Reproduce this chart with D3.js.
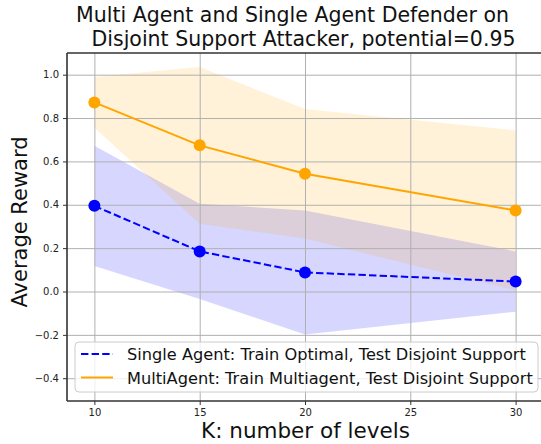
<!DOCTYPE html>
<html>
  <head>
    <meta charset='utf-8' />
    <title>Multi Agent vs Single Agent</title>
    <script src="https://d3js.org/d3.v7.min.js"></script>
    <style>
body {
  margin: 0;
  font-family: "DejaVu Sans", sans-serif;
}
.grid line {
  stroke: #b0b0b0;
  stroke-width: 1;
}
.grid path { display: none; }
.axis path { display: none; }
.axis line { stroke: #333; }
.axis text { font-size: 10px; fill: #222; font-family: "DejaVu Sans", sans-serif; }
    </style>
  </head>
  <body>
    <div id="graphic"></div>
    <script>
      // K values and the two series (mean, upper and lower band)
      const levels = [10, 15, 20, 30];
      const singleMean  = [0.395, 0.185, 0.088, 0.046];
      const singleUpper = [0.672, 0.405, 0.374, 0.185];
      const singleLower = [0.118, -0.035, -0.198, -0.093];
      const multiMean  = [0.872, 0.674, 0.543, 0.374];
      const multiUpper = [0.989, 1.035, 0.842, 0.743];
      const multiLower = [0.755, 0.313, 0.244, 0.005];

      const xTicks = [10, 15, 20, 25, 30];
      const yTicks = [-0.4, -0.2, 0.0, 0.2, 0.4, 0.6, 0.8, 1.0];
      const legendLabels = [
        "Single Agent: Train Optimal, Test Disjoint Support",
        "MultiAgent: Train Multiagent, Test Disjoint Support"
      ];
      const titleLines = [
        "Multi Agent and Single Agent Defender on",
        " Disjoint Support Attacker, potential=0.95"
      ];

      const W = 541, H = 444;
      const mLeft = 67, mTop = 53, mBottom = 401;

      const svg = d3.select("#graphic").append("svg")
        .attr("width", W)
        .attr("height", H);

      const x = d3.scaleLinear().domain([8.7, 31.3]).range([mLeft, 543]);
      const y = d3.scaleLinear().domain([-0.505, 1.10]).range([mBottom, mTop]);

      // bands
      const area = (lo, hi) => d3.area()
        .x((d, i) => x(levels[i]))
        .y0((d, i) => y(lo[i]))
        .y1((d, i) => y(hi[i]));

      svg.append("path")
        .datum(levels)
        .attr("d", area(singleLower, singleUpper))
        .attr("fill", "rgba(0,0,255,0.16)");

      svg.append("path")
        .datum(levels)
        .attr("d", area(multiLower, multiUpper))
        .attr("fill", "rgba(255,165,0,0.15)");

      // grid
      svg.append("g")
        .attr("class", "grid")
        .attr("transform", "translate(0," + mBottom + ")")
        .call(d3.axisBottom(x).tickValues(xTicks).tickSize(-(mBottom - mTop)).tickFormat(""));

      svg.append("g")
        .attr("class", "grid")
        .attr("transform", "translate(" + mLeft + ",0)")
        .call(d3.axisLeft(y).tickValues(yTicks).tickSize(-(W - mLeft)).tickFormat(""));

      // lines
      const line = (vals) => d3.line()
        .x((d, i) => x(levels[i]))
        .y((d, i) => y(vals[i]));

      svg.append("path")
        .datum(levels)
        .attr("d", line(singleMean))
        .attr("fill", "none")
        .attr("stroke", "blue")
        .attr("stroke-width", 2)
        .attr("stroke-dasharray", "7.4,3.2");

      svg.append("path")
        .datum(levels)
        .attr("d", line(multiMean))
        .attr("fill", "none")
        .attr("stroke", "orange")
        .attr("stroke-width", 2);

      svg.append("g").selectAll("circle")
        .data(levels)
        .join("circle")
        .attr("cx", d => x(d))
        .attr("cy", (d, i) => y(singleMean[i]))
        .attr("r", 6)
        .attr("fill", "blue");

      svg.append("g").selectAll("circle")
        .data(levels)
        .join("circle")
        .attr("cx", d => x(d))
        .attr("cy", (d, i) => y(multiMean[i]))
        .attr("r", 6)
        .attr("fill", "orange");

      // axes
      svg.append("g")
        .attr("class", "axis")
        .attr("transform", "translate(0," + mBottom + ")")
        .call(d3.axisBottom(x).tickValues(xTicks).tickSize(4).tickPadding(4).tickFormat(d3.format("d")));

      svg.append("g")
        .attr("class", "axis")
        .attr("transform", "translate(" + mLeft + ",0)")
        .call(d3.axisLeft(y).tickValues(yTicks).tickSize(4).tickPadding(4)
          .tickFormat(d => d3.format(".1f")(d).replace("-", "\u2212")));

      // spines
      svg.append("line")
        .attr("x1", mLeft).attr("x2", mLeft).attr("y1", mTop).attr("y2", mBottom)
        .attr("stroke", "#333").attr("stroke-width", 1.6);
      svg.append("line")
        .attr("x1", mLeft).attr("x2", W).attr("y1", mBottom).attr("y2", mBottom)
        .attr("stroke", "#333").attr("stroke-width", 1.6);
      svg.append("line")
        .attr("x1", mLeft).attr("x2", W).attr("y1", mTop).attr("y2", mTop)
        .attr("stroke", "#333").attr("stroke-width", 1.6);

      // legend
      const lg = svg.append("g");
      lg.append("rect")
        .attr("x", 75).attr("y", 342).attr("width", 463).attr("height", 50)
        .attr("rx", 4)
        .attr("fill", "rgba(255,255,255,0.8)")
        .attr("stroke", "#cccccc");
      const legendStyles = [
        {color: "blue", dash: "7.4,3.2"},
        {color: "orange", dash: null}
      ];
      legendLabels.forEach((t, i) => {
        const cy = 354 + i * 23.5;
        lg.append("line")
          .attr("x1", 81).attr("x2", 113).attr("y1", cy).attr("y2", cy)
          .attr("stroke", legendStyles[i].color)
          .attr("stroke-width", 2)
          .attr("stroke-dasharray", legendStyles[i].dash);
        lg.append("text")
          .attr("x", 127).attr("y", cy + 6)
          .attr("font-size", 16.2)
          .attr("fill", "#111")
          .text(t);
      });

      // titles and labels
      svg.append("text")
        .attr("x", 76).attr("y", 21.5)
        .attr("font-size", 20.5)
        .attr("fill", "#111")
        .style("white-space", "pre")
        .text(titleLines[0]);
      svg.append("text")
        .attr("x", 85).attr("y", 45.5)
        .attr("font-size", 20.5)
        .attr("fill", "#111")
        .style("white-space", "pre")
        .text(titleLines[1]);

      svg.append("text")
        .attr("x", 305.5).attr("y", 438)
        .attr("text-anchor", "middle")
        .attr("font-size", 21.5)
        .attr("fill", "#111")
        .text("K: number of levels");

      svg.append("text")
        .attr("transform", "translate(27,222) rotate(-90)")
        .attr("text-anchor", "middle")
        .attr("font-size", 21)
        .attr("fill", "#111")
        .text("Average Reward");
    </script>
  </body>
</html>
